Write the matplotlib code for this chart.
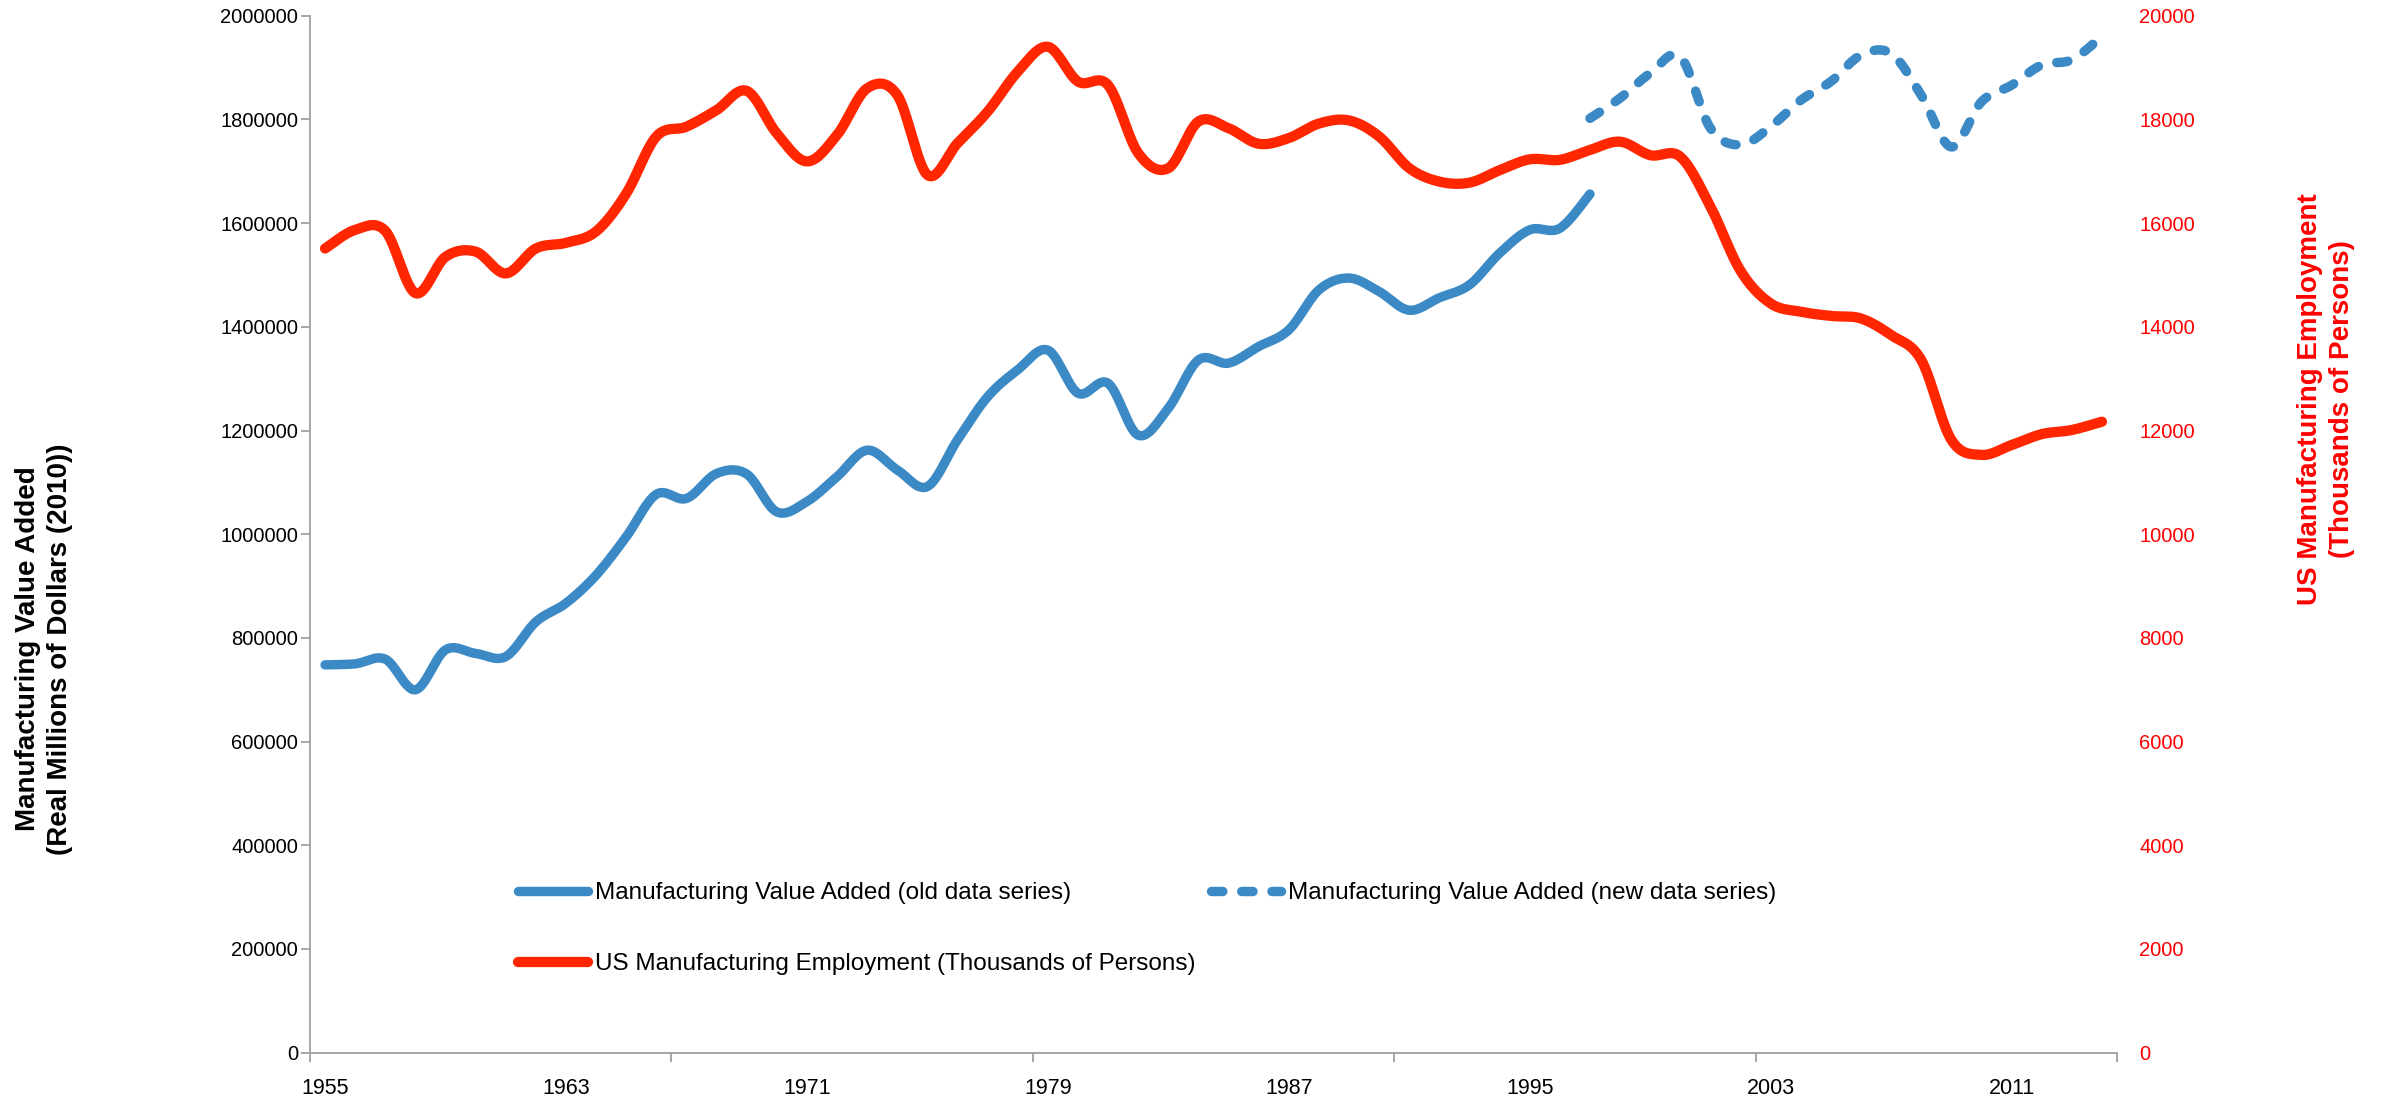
import numpy as np
import matplotlib
matplotlib.use("Agg")
import matplotlib.pyplot as plt
from matplotlib.lines import Line2D

plt.rcParams["font.family"] = ["Liberation Sans", "DejaVu Sans"]

# --- data ---
years = list(range(1955, 2015))
old_years = list(range(1955, 1998))
new_years = list(range(1997, 2015))

value_added_old = [
    748000, 750000, 759000, 700000, 777000, 770000, 764000, 831000, 867000, 921000,
    995000, 1077000, 1069000, 1117000, 1116000, 1043000, 1063000, 1111000, 1162000, 1124000,
    1092000, 1182000, 1265000, 1317000, 1355000, 1272000, 1291000, 1191000, 1243000, 1336000,
    1330000, 1362000, 1394000, 1471000, 1494000, 1468000, 1432000, 1456000, 1481000, 1542000,
    1587000, 1590000, 1656000,
]
value_added_new = [
    1802000, 1841000, 1889000, 1921000, 1783000, 1751000, 1786000, 1837000, 1873000,
    1924000, 1927000, 1847000, 1747000, 1834000, 1866000, 1905000, 1915000, 1960000,
]
employment = [
    15510, 15870, 15850, 14650, 15350, 15450, 15030, 15510, 15620, 15840,
    16570, 17670, 17860, 18180, 18550, 17730, 17190, 17700, 18600, 18470,
    16930, 17540, 18150, 18920, 19400, 18730, 18660, 17350, 17060, 17960,
    17830, 17530, 17640, 17920, 17980, 17670, 17060, 16800, 16780, 17020,
    17230, 17220, 17410, 17570, 17310, 17280, 16320, 15080, 14450, 14290,
    14210, 14160, 13840, 13360, 11820, 11530, 11720, 11930, 12010, 12170,
]

left_ticks = list(range(0, 2000001, 200000))
right_ticks = list(range(0, 20001, 2000))
label_years = list(range(1955, 2015, 8))

label_old = "Manufacturing Value Added (old data series)"
label_new = "Manufacturing Value Added (new data series)"
label_emp = "US Manufacturing Employment (Thousands of Persons)"

blue = "#3C8AC5"
red = "#FF2600"
axis_grey = "#A6A6A6"
dash_pattern = (1.2, 2.0)


def smooth(xs, ys, steps=30):
    # Excel style smoothed line: bezier segments through each point
    px = np.asarray(xs, dtype=float)
    py = np.asarray(ys, dtype=float)
    px = np.concatenate([[px[0]], px, [px[-1]]])
    py = np.concatenate([[py[0]], py, [py[-1]]])
    t = np.linspace(0, 1, steps, endpoint=False)[:, None]
    out = []
    for i in range(1, len(px) - 2):
        p0 = np.array([px[i - 1], py[i - 1]])
        p1 = np.array([px[i], py[i]])
        p2 = np.array([px[i + 1], py[i + 1]])
        p3 = np.array([px[i + 2], py[i + 2]])
        c1 = p1 + (p2 - p0) / 6.0
        c2 = p2 - (p3 - p1) / 6.0
        seg = ((1 - t) ** 3) * p1 + 3 * ((1 - t) ** 2) * t * c1 \
            + 3 * (1 - t) * t ** 2 * c2 + t ** 3 * p2
        out.append(seg)
    out.append(np.array([[px[-2], py[-2]]]))
    out = np.vstack(out)
    return out[:, 0], out[:, 1]


W, H = 2389, 1105
fig = plt.figure(figsize=(W / 100, H / 100), dpi=100)
ax = fig.add_axes([310 / W, 1 - 1052.7 / H, 1807 / W, 1037 / H])
ax2 = ax.twinx()

sx, sy = smooth(old_years, value_added_old)
ax.plot(sx, sy, color=blue, lw=6.8, solid_capstyle="round")
sx, sy = smooth(new_years, value_added_new)
ax.plot(sx, sy, color=blue, lw=6.8, dashes=dash_pattern, dash_capstyle="round")
sx, sy = smooth(years, employment)
ax2.plot(sx, sy, color=red, lw=7.4, solid_capstyle="round")

ax.set_xlim(1954.5, 2014.5)
ax.set_ylim(0, 2000000)
ax2.set_ylim(0, 20000)

# left axis
ax.set_yticks(left_ticks)
ax.set_yticklabels([str(v) for v in left_ticks], fontsize=14.5)
ax.tick_params(axis="y", direction="out", length=6.5, width=1.4, color=axis_grey, pad=2)

# x axis: labels at category centres, tick marks every 12 categories
ax.set_xticks(label_years)
ax.set_xticklabels([str(y) for y in label_years], fontsize=15.5)
ax.tick_params(axis="x", which="major", length=0, pad=18)
ax.set_xticks(np.arange(1954.5, 2015, 12), minor=True)
ax.tick_params(axis="x", which="minor", direction="out", length=6.5, width=1.4, color=axis_grey)

# right axis
ax2.set_yticks(right_ticks)
ax2.set_yticklabels([str(v) for v in right_ticks], fontsize=14.5, color="#FF0000")
ax2.tick_params(axis="y", length=0, pad=16)

for a in (ax, ax2):
    a.spines["top"].set_visible(False)
    a.spines["right"].set_visible(False)
    a.spines["left"].set_color(axis_grey)
    a.spines["bottom"].set_color(axis_grey)
    a.spines["left"].set_linewidth(1.4)
    a.spines["bottom"].set_linewidth(1.4)
ax2.spines["left"].set_visible(False)
ax2.spines["bottom"].set_visible(False)

# axis titles
fig.text(44 / W, 1 - 649 / H, "Manufacturing Value Added\n(Real Millions of Dollars (2010))",
         rotation=90, ha="center", va="center", fontsize=20, fontweight="bold",
         linespacing=1.3, color="black")
fig.text(2326 / W, 1 - 399 / H, "US Manufacturing Employment\n(Thousands of Persons)",
         rotation=90, ha="center", va="center", fontsize=20, fontweight="bold",
         linespacing=1.3, color="#FF0000")

# legend entries, placed one by one like the original
entries = [
    (Line2D([], [], color=blue, lw=6.8, solid_capstyle="round"), label_old, 518, 893),
    (Line2D([], [], color=blue, lw=6.8, dashes=dash_pattern, dash_capstyle="round"), label_new, 1211, 893),
    (Line2D([], [], color=red, lw=7.4, solid_capstyle="round"), label_emp, 518, 964),
]
for handle, text, lx, ly in entries:
    fig.legend([handle], [text], loc="center left", bbox_to_anchor=(lx / W, 1 - ly / H),
               frameon=False, fontsize=17.5, borderpad=0, borderaxespad=0,
               handlelength=2.9, handletextpad=0.25)

fig.savefig("out.png", dpi=100)
